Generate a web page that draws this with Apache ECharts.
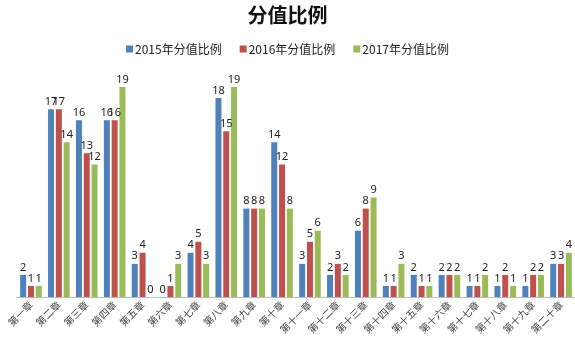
<!DOCTYPE html>
<html>
<head>
<meta charset="utf-8">
<script src="https://cdn.jsdelivr.net/npm/echarts@6/dist/echarts.min.js"></script>
<style>
  html, body { margin: 0; padding: 0; background: #fff; }
  #main { width: 575px; height: 352px; }
</style>
</head>
<body>
<div id="main"></div>
<script>
// 章节
var chapters = ['第一章', '第二章', '第三章', '第四章', '第五章', '第六章', '第七章', '第八章', '第九章', '第十章',
    '第十一章', '第十二章', '第十三章', '第十四章', '第十五章', '第十六章', '第十七章', '第十八章', '第十九章', '第二十章'];
// 各年分值
var score2015 = [2, 17, 16, 16, 3, 0, 4, 18, 8, 14, 3, 2, 6, 1, 2, 2, 1, 1, 1, 3];
var score2016 = [1, 17, 13, 16, 4, 1, 5, 15, 8, 12, 5, 3, 8, 1, 1, 2, 1, 2, 2, 3];
var score2017 = [1, 14, 12, 19, 0, 3, 3, 19, 8, 8, 6, 2, 9, 3, 1, 2, 2, 1, 2, 4];
var seriesNames = ['2015年分值比例', '2016年分值比例', '2017年分值比例'];

var chart = echarts.init(document.getElementById('main'));

function makeSeries(name, data) {
    return {
        name: name,
        type: 'bar',
        data: data,
        barWidth: 6,
        barGap: '30%',
        label: {
            show: true,
            position: 'top',
            distance: 2,
            color: '#222',
            fontSize: 11,
            fontFamily: 'Noto Sans'
        }
    };
}

var option = {
    animation: false,
    color: ['#4F81BD', '#C0504D', '#9BBB59'],
    title: {
        text: '分值比例',
        left: 'center',
        top: 0,
        textStyle: {
            fontSize: 20,
            fontWeight: 'bold',
            color: '#111',
            fontFamily: 'Noto Sans CJK SC'
        }
    },
    legend: {
        top: 38,
        left: 'center',
        itemWidth: 7,
        itemHeight: 7,
        itemGap: 18,
        icon: 'rect',
        textStyle: {
            fontSize: 12,
            color: '#222',
            fontFamily: 'Noto Sans CJK SC',
            padding: [0, 0, 0, -3]
        },
        data: seriesNames
    },
    grid: {
        left: 17,
        right: 0,
        top: 76,
        bottom: 55
    },
    xAxis: {
        type: 'category',
        data: chapters,
        axisTick: { show: false },
        axisLine: { lineStyle: { color: '#bbb' } },
        axisLabel: {
            interval: 0,
            rotate: 45,
            fontSize: 10,
            color: '#444',
            margin: 6,
            fontFamily: 'Noto Sans CJK SC'
        }
    },
    yAxis: {
        type: 'value',
        min: 0,
        max: 20,
        show: false,
        splitLine: { show: false }
    },
    series: [
        makeSeries(seriesNames[0], score2015),
        makeSeries(seriesNames[1], score2016),
        makeSeries(seriesNames[2], score2017)
    ]
};

chart.setOption(option);
</script>
</body>
</html>
